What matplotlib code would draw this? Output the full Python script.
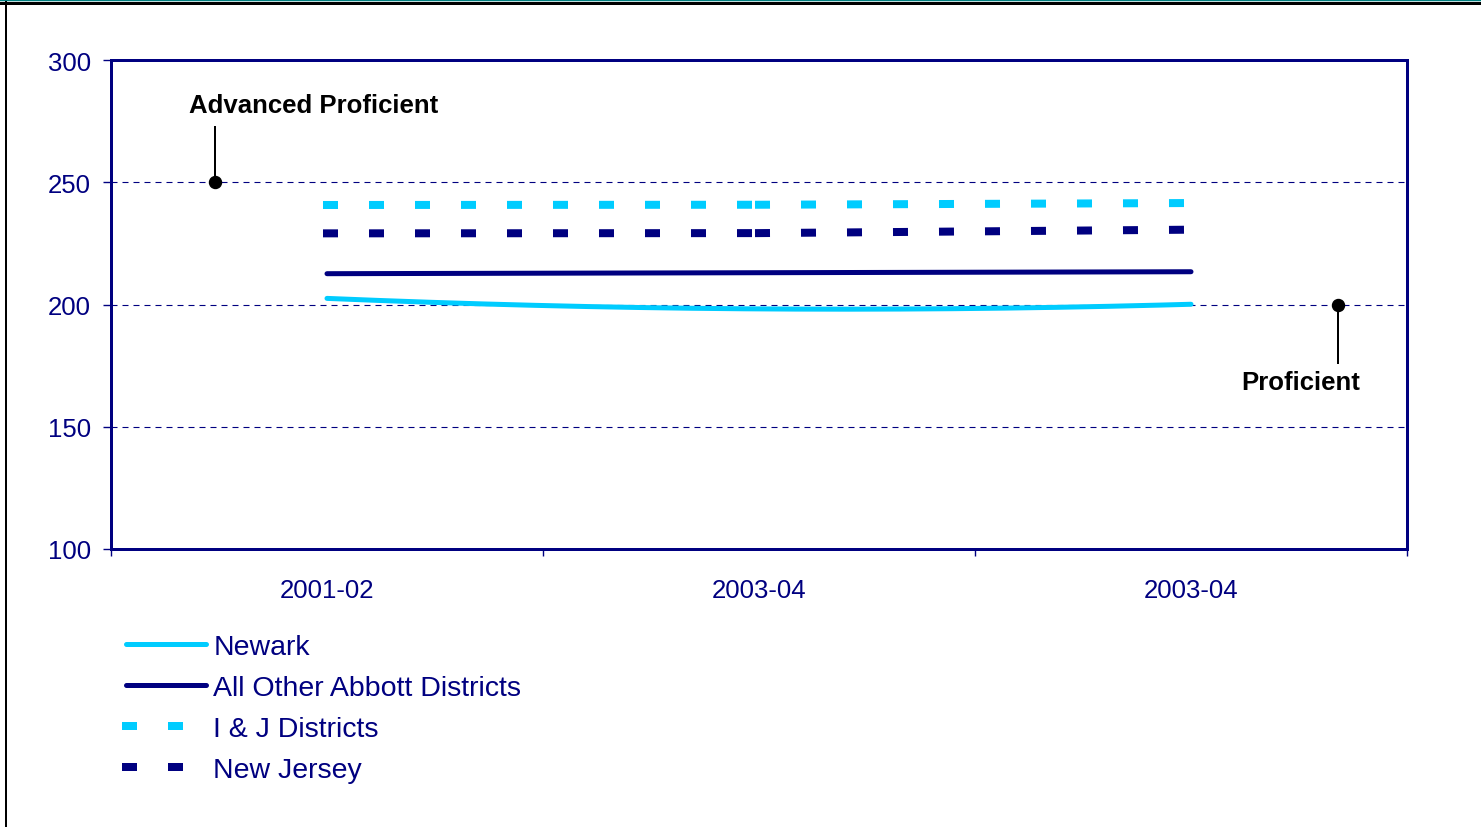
import matplotlib
matplotlib.use('Agg')
import matplotlib.pyplot as plt
import numpy as np
from matplotlib.lines import Line2D

plt.rcParams['font.family'] = ['Liberation Sans', 'DejaVu Sans']
plt.rcParams['lines.scale_dashes'] = False

# ---- data ----
years = ["2001-02", "2003-04", "2003-04"]
newark = [202.5, 198.2, 200.1]
abbott = [212.6, 213.0, 213.4]
ij_districts = [240.7, 240.8, 241.5]
new_jersey = [229.1, 229.2, 230.6]
series_labels = ["Newark", "All Other Abbott Districts", "I & J Districts", "New Jersey"]

ref_labels = ["Advanced Proficient", "Proficient"]
ref_values = [250, 200]

# ---- styling / layout ----
NAVY = '#000080'
CYAN = '#00CCFF'
W, H = 1481, 828
PX = 0.72  # points per pixel at dpi 100

fig = plt.figure(figsize=(W / 100, H / 100), dpi=100)
ax = fig.add_axes([111 / W, 1 - 550 / H, 1296 / W, 489 / H])

x = np.arange(len(years))

# Newark: smoothed line through the three points
xs = np.linspace(0, len(years) - 1, 200)
coef = np.polyfit(x, newark, 2)
h_newark, = ax.plot(xs, np.polyval(coef, xs), color=CYAN, lw=5 * PX,
                    solid_capstyle='round', label=series_labels[0])
h_abbott, = ax.plot(x, abbott, color=NAVY, lw=5 * PX,
                    solid_capstyle='round', label=series_labels[1])

dash_style = (0, (7 * PX, 39 * PX))
handles_dash = []
for vals, col, lab in [(ij_districts, CYAN, series_labels[2]),
                       (new_jersey, NAVY, series_labels[3])]:
    first = None
    for i in range(len(x) - 1):
        h, = ax.plot(x[i:i + 2], vals[i:i + 2], color=col, lw=8 * PX,
                     linestyle=dash_style, dash_capstyle='projecting')
        if first is None:
            first = h
            h.set_label(lab)
    handles_dash.append(first)

# axes
ax.set_xlim(-0.5, len(years) - 0.5)
ax.set_ylim(100, 300)
ax.set_yticks([100, 150, 200, 250, 300])
ax.yaxis.grid(True, color=NAVY, lw=0.8, linestyle=(0, (6 * PX, 5 * PX)))
ax.set_axisbelow(True)

ax.set_xticks(np.arange(-0.5, len(years), 1.0))
ax.set_xticklabels([])
ax.set_xticks(x, minor=True)
ax.set_xticklabels(years, minor=True)
ax.tick_params(axis='x', which='major', length=7 * PX, width=1, color=NAVY)
ax.tick_params(axis='x', which='minor', length=0, pad=29 * PX,
               labelsize=18.5, labelcolor=NAVY)
ax.tick_params(axis='y', length=8 * PX, width=1, color=NAVY,
               labelcolor=NAVY, labelsize=18.5, pad=12 * PX)
for s in ax.spines.values():
    s.set_color(NAVY)
    s.set_linewidth(3 * PX)

# reference annotations
ref_x = [-0.26, 2.34]
ref_line_end = [272.5, 176.0]
ref_text_xy = [(-0.03, 281.6), (2.255, 168.3)]
for lab, val, rx, le, (tx, ty) in zip(ref_labels, ref_values, ref_x,
                                      ref_line_end, ref_text_xy):
    ax.plot([rx, rx], [val, le], color='black', lw=2 * PX, zorder=4)
    ax.plot([rx], [val], 'o', color='black', ms=12 * PX, zorder=5)
    ax.text(tx, ty, lab, ha='center', va='center', fontsize=18.5,
            fontweight='bold', color='black')

# legend
handles = [h_newark, h_abbott] + handles_dash
fig.legend(handles, series_labels, loc='upper left',
           bbox_to_anchor=(126 / W, 1 - 635 / H), frameon=False,
           fontsize=20.5, handlelength=2.81, handletextpad=0.25,
           labelspacing=0.53, borderpad=0, borderaxespad=0, labelcolor=NAVY)

# outer frame decoration
fig.add_artist(Line2D([0, 1], [1 - 1 / H] * 2, transform=fig.transFigure,
                      color='#007F7F', lw=2.5 * PX))
fig.add_artist(Line2D([0, 1], [1 - 3.5 / H] * 2, transform=fig.transFigure,
                      color='black', lw=3 * PX))
fig.add_artist(Line2D([6 / W] * 2, [0, 1 - 3 / H], transform=fig.transFigure,
                      color='black', lw=2 * PX))

fig.savefig('out.png', dpi=100)
